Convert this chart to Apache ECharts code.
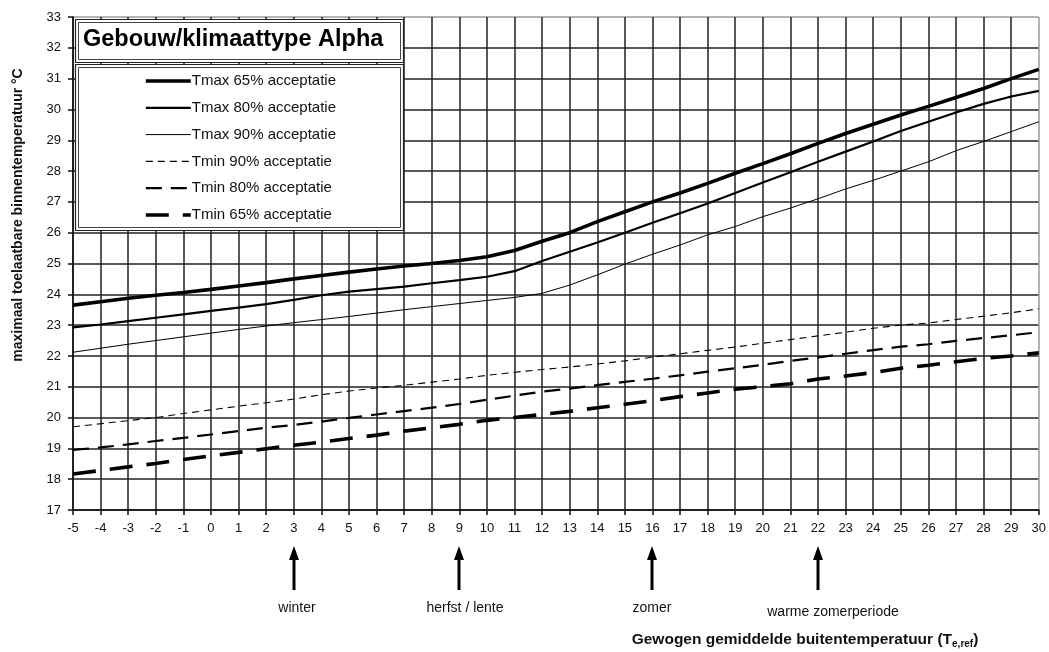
<!DOCTYPE html>
<html>
<head>
<meta charset="utf-8">
<title>Gebouw/klimaattype Alpha</title>
<script src="https://cdn.jsdelivr.net/npm/echarts@6/dist/echarts.min.js"></script>
<style>
  html, body { margin: 0; padding: 0; background: #fff; }
  #chart { width: 1049px; height: 652px; }
</style>
</head>
<body>
<div id="chart"></div>
<script>
// Outdoor reference temperature (°C), one point per degree
const outdoorTemps = [-5, -4, -3, -2, -1, 0, 1, 2, 3, 4, 5, 6, 7, 8, 9, 10, 11, 12,
  13, 14, 15, 16, 17, 18, 19, 20, 21, 22, 23, 24, 25, 26, 27, 28, 29, 30];

// Upper limits of the indoor operative temperature
const tmax65 = [23.65, 23.76, 23.87, 23.97, 24.06, 24.16, 24.27, 24.38, 24.5, 24.61, 24.72, 24.82,
  24.92, 25.0, 25.1, 25.22, 25.42, 25.72, 26.0, 26.36, 26.68, 27.0, 27.29, 27.6,
  27.93, 28.24, 28.56, 28.9, 29.22, 29.52, 29.82, 30.1, 30.39, 30.68, 31.0, 31.3];
const tmax80 = [22.93, 23.02, 23.13, 23.24, 23.35, 23.46, 23.57, 23.68, 23.82, 23.97, 24.09, 24.17,
  24.25, 24.36, 24.46, 24.57, 24.75, 25.08, 25.38, 25.68, 26.0, 26.32, 26.63, 26.95,
  27.29, 27.63, 27.96, 28.3, 28.63, 28.96, 29.3, 29.6, 29.9, 30.18, 30.42, 30.6];
const tmax90 = [22.12, 22.25, 22.38, 22.5, 22.62, 22.74, 22.86, 22.97, 23.08, 23.18, 23.28, 23.39,
  23.5, 23.6, 23.7, 23.8, 23.9, 24.03, 24.3, 24.63, 24.98, 25.3, 25.6, 25.93,
  26.2, 26.52, 26.8, 27.1, 27.42, 27.7, 28.0, 28.3, 28.66, 28.96, 29.28, 29.6];

// Lower limits of the indoor operative temperature
const tmin90 = [19.7, 19.8, 19.9, 20.0, 20.13, 20.25, 20.37, 20.48, 20.6, 20.74, 20.86, 20.96,
  21.05, 21.15, 21.25, 21.37, 21.47, 21.56, 21.64, 21.74, 21.84, 21.96, 22.07, 22.18,
  22.29, 22.41, 22.53, 22.65, 22.77, 22.9, 23.0, 23.07, 23.18, 23.29, 23.4, 23.53];
const tmin80 = [18.95, 19.03, 19.13, 19.24, 19.34, 19.45, 19.56, 19.67, 19.76, 19.87, 19.99, 20.1,
  20.21, 20.32, 20.44, 20.58, 20.71, 20.84, 20.94, 21.05, 21.16, 21.26, 21.37, 21.49,
  21.6, 21.71, 21.84, 21.95, 22.07, 22.19, 22.3, 22.38, 22.49, 22.58, 22.67, 22.77];
const tmin65 = [18.17, 18.28, 18.4, 18.51, 18.64, 18.76, 18.87, 18.99, 19.1, 19.2, 19.32, 19.43,
  19.56, 19.67, 19.78, 19.91, 20.0, 20.1, 20.2, 20.32, 20.43, 20.55, 20.68, 20.8,
  20.92, 21.0, 21.1, 21.25, 21.35, 21.46, 21.6, 21.7, 21.81, 21.92, 22.0, 22.1];

const seriesNames = ['Tmax 65% acceptatie', 'Tmax 80% acceptatie', 'Tmax 90% acceptatie',
  'Tmin 90% acceptatie', 'Tmin 80% acceptatie', 'Tmin 65% acceptatie'];

// Typical outdoor temperatures per season
const seasonTemps = [3, 9, 16, 22];
const seasonLabels = ['winter', 'herfst / lente', 'zomer', 'warme zomerperiode'];

const titleText = 'Gebouw/klimaattype Alpha';
const yTitle = 'maximaal toelaatbare binnentemperatuur °C';

// ---- styling ----
const FONT = '"Liberation Sans", Arial, sans-serif';
const INK = '#111';
const lineLooks = [
  { width: 3.6, type: 'solid' },
  { width: 2.2, type: 'solid' },
  { width: 1.0, type: 'solid' },
  { width: 1.1, type: [7, 5] },
  { width: 2.2, type: [16, 9] },
  { width: 3.6, type: [23, 14] }
];
const seriesValues = [tmax65, tmax80, tmax90, tmin90, tmin80, tmin65];

function pairs(values) {
  return outdoorTemps.map((t, i) => [t, values[i]]);
}

// grid lines: dark, except the outer top/right edge which is grey
const xLineColors = outdoorTemps.map((t, i) => i === outdoorTemps.length - 1 ? '#9a9a9a' : '#222');
const yLineColors = [];
for (let v = 17; v <= 33; v++) yLineColors.push(v === 33 ? '#9a9a9a' : '#222');

const chart = echarts.init(document.getElementById('chart'), null, { renderer: 'canvas' });

const option = {
  animation: false,
  backgroundColor: '#fff',
  textStyle: { fontFamily: FONT },
  grid: { left: 73, right: 9, top: 17, bottom: 142, containLabel: false },
  xAxis: {
    type: 'value', min: -5, max: 30, interval: 1,
    axisLine: { show: true, onZero: false, lineStyle: { color: '#111', width: 1.5 } },
    axisTick: { show: true, length: 5, lineStyle: { color: '#111', width: 1.5 } },
    axisLabel: { color: INK, fontSize: 13, margin: 12, fontFamily: FONT },
    splitLine: { show: true, lineStyle: { color: xLineColors, width: 1.5 } }
  },
  yAxis: {
    type: 'value', min: 17, max: 33, interval: 1,
    axisLine: { show: true, onZero: false, lineStyle: { color: '#111', width: 1.5 } },
    axisTick: { show: true, length: 5, lineStyle: { color: '#111', width: 1.5 } },
    axisLabel: { color: INK, fontSize: 13, margin: 12, fontFamily: FONT },
    splitLine: { show: true, lineStyle: { color: yLineColors, width: 1.5 } }
  },
  legend: {
    orient: 'vertical', left: 144, top: 73.5, padding: 0,
    itemWidth: 45, itemHeight: 14, itemGap: 11.8,
    data: seriesNames.map((n, i) => ({ name: n, lineStyle: { width: lineLooks[i].width } })),
    textStyle: { color: INK, fontSize: 15, lineHeight: 14, fontFamily: FONT, padding: [0, 0, 0, -4] },
    itemStyle: { opacity: 0, borderWidth: 0 },
    lineStyle: { width: 'inherit' },
    selectedMode: false,
    z: 6
  },
  series: seriesNames.map((n, i) => ({
    name: n,
    type: 'line',
    data: pairs(seriesValues[i]),
    symbol: 'none',
    smooth: false,
    color: '#000',
    lineStyle: { color: '#000', width: lineLooks[i].width, type: lineLooks[i].type, cap: 'butt' },
    z: 3
  })),
  graphic: []
};

chart.setOption(option);

// Boxes, titles and season arrows
function buildGraphics() {
  const g = [];
  // title box (double frame)
  g.push({ type: 'rect', z: 5, shape: { x: 75.5, y: 19.5, width: 328, height: 43 },
    style: { fill: '#fff', stroke: '#222', lineWidth: 1.2 } });
  g.push({ type: 'rect', z: 5, shape: { x: 78.5, y: 22.5, width: 322, height: 37 },
    style: { fill: 'none', stroke: '#444', lineWidth: 1 } });
  g.push({ type: 'text', z: 6, x: 83, y: 40,
    style: { text: titleText, fill: '#000', font: 'bold 23.5px ' + FONT, textVerticalAlign: 'middle' } });
  // legend box (double frame)
  g.push({ type: 'rect', z: 5, shape: { x: 75.5, y: 64.5, width: 328, height: 166 },
    style: { fill: '#fff', stroke: '#222', lineWidth: 1.2 } });
  g.push({ type: 'rect', z: 5, shape: { x: 78.5, y: 67.5, width: 322, height: 160 },
    style: { fill: 'none', stroke: '#444', lineWidth: 1 } });

  // y axis title
  g.push({ type: 'text', z: 6, x: 18, y: 215, rotation: Math.PI / 2,
    style: { text: yTitle, fill: '#111', font: 'bold 14px ' + FONT,
      textAlign: 'center', textVerticalAlign: 'middle' } });

  // x axis title with subscript
  g.push({ type: 'text', z: 6, x: 805, y: 640,
    style: {
      text: '{b|Gewogen gemiddelde buitentemperatuur (T}{s|e,ref}{b|)}',
      textAlign: 'center', textVerticalAlign: 'middle',
      rich: {
        b: { fontFamily: FONT, fontWeight: 'bold', fontSize: 15.5, fill: '#111', lineHeight: 18 },
        s: { fontFamily: FONT, fontWeight: 'bold', fontSize: 10, fill: '#111', lineHeight: 18,
          verticalAlign: 'bottom', padding: [6, 0, 0, 0] }
      }
    } });

  // season arrows
  const labelShift = [3, 6, 0, 15];
  const labelY = [608, 608, 608, 612];
  seasonTemps.forEach((t, i) => {
    const px = Math.round(chart.convertToPixel({ xAxisIndex: 0 }, t));
    g.push({ type: 'polygon', z: 6,
      shape: { points: [[px, 546], [px - 5, 560], [px + 5, 560]] },
      style: { fill: '#000' } });
    g.push({ type: 'line', z: 6,
      shape: { x1: px, y1: 556, x2: px, y2: 590 },
      style: { stroke: '#000', lineWidth: 3 } });
    g.push({ type: 'text', z: 6, x: px + labelShift[i], y: labelY[i],
      style: { text: seasonLabels[i], fill: '#111', font: '14px ' + FONT,
        textAlign: 'center', textVerticalAlign: 'middle' } });
  });
  return g;
}

chart.setOption({ graphic: buildGraphics() });
</script>
</body>
</html>
